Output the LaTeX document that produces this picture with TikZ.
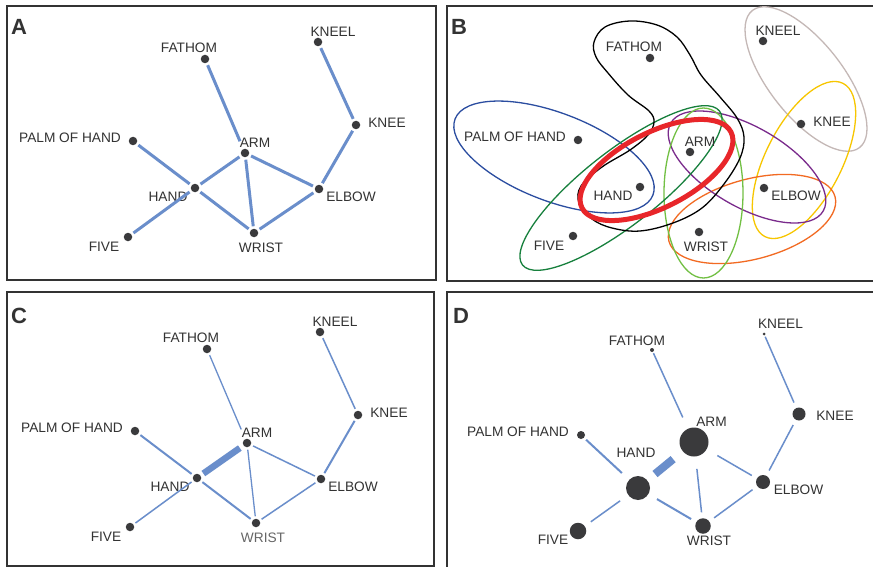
\documentclass[tikz,border=0pt]{standalone}
\usepackage{fontspec}
\setmainfont{Liberation Sans}
\definecolor{txt}{HTML}{333333}
\definecolor{dotc}{HTML}{3A3A3C}
\definecolor{edgec}{HTML}{6A8ECB}
\definecolor{framec}{HTML}{333333}
\definecolor{eblue}{HTML}{2B4DA0}
\definecolor{ered}{HTML}{E8262A}
\definecolor{edgreen}{HTML}{17803D}
\definecolor{elgreen}{HTML}{72C044}
\definecolor{epurple}{HTML}{7A2B8C}
\definecolor{eorange}{HTML}{F26A22}
\definecolor{eyellow}{HTML}{F7C600}
\definecolor{egray}{HTML}{C4B8B6}
\newcommand{\basenodes}[1]{%
  \node[dot] (#1-fathom) at (205,59) {};
  \node[dot] (#1-kneel) at (318,42) {};
  \node[dot] (#1-knee) at (356,125) {};
  \node[dot] (#1-palm) at (133,141) {};
  \node[dot] (#1-arm) at (245,153) {};
  \node[dot] (#1-hand) at (195,188) {};
  \node[dot] (#1-elbow) at (319,189) {};
  \node[dot] (#1-five) at (128,237) {};
  \node[dot] (#1-wrist) at (254,233) {};
  \node[lbl] (#1-fathom-t) at (189,48) {FATHOM};
  \node[lbl] (#1-kneel-t) at (333,32) {KNEEL};
  \node[lbl] (#1-knee-t) at (387,123) {KNEE};
  \node[lbl] (#1-palm-t) at (70,138) {PALM OF HAND};
  \node[lbl] (#1-arm-t) at (255,143) {ARM};
  \node[lbl] (#1-hand-t) at (168,197) {HAND};
  \node[lbl] (#1-elbow-t) at (351,197) {ELBOW};
  \node[lbl] (#1-five-t) at (104,247) {FIVE};
}
\begin{document}
\begin{tikzpicture}[x=1pt,y=-1pt,
  dot/.style={circle, fill=dotc, inner sep=0pt, minimum size=8.5pt, outer sep=2.5pt},
  ddot/.style={circle, fill=dotc, inner sep=0pt},
  lbl/.style={font=\fontsize{13.7}{14}\selectfont, text=txt, inner sep=0pt},
  plabel/.style={font=\fontsize{22}{22}\selectfont\bfseries, text=txt, inner sep=0pt},
  frame/.style={draw=framec, line width=1.5pt},
  edgeA/.style={draw=edgec, line width=3pt},
  edgeC/.style={draw=edgec, line width=1.5pt},
  ell/.style={line width=1.3pt}]
\useasboundingbox (0,0) rectangle (873,567);
\fill[white] (0,0) rectangle (873,567);
% frames
\draw[frame] (7,6) rectangle (436,280);
\draw[frame] (447,6) rectangle (875,281);
\draw[frame] (7,292) rectangle (434,566);
\draw[frame] (447,292) rectangle (875,570);
\node[plabel] (pa) at (19,27) {A};
\node[plabel] (pb) at (459,27) {B};
\node[plabel] (pc) at (19,316) {C};
\node[plabel] (pd) at (461,316) {D};

% ---------- Panel A
\basenodes{a}
\node[lbl] (a-wrist-t) at (261,248) {WRIST};
\draw[edgeA, shorten >=6pt] (a-fathom) -- (a-arm);
\draw[edgeA] (a-kneel) -- (a-knee);
\draw[edgeA] (a-knee) -- (a-elbow);
\draw[edgeA] (a-palm) -- (a-hand);
\draw[edgeA] (a-hand) -- (a-arm);
\draw[edgeA] (a-hand) -- (a-five);
\draw[edgeA] (a-hand) -- (a-wrist);
\draw[edgeA] (a-arm) -- (a-wrist);
\draw[edgeA] (a-arm) -- (a-elbow);
\draw[edgeA] (a-elbow) -- (a-wrist);

% ---------- Panel B
\draw[ell, egray, rotate around={-52:(806,79)}] (806,79) ellipse (87pt and 37pt);
\draw[ell, eyellow, rotate around={63:(804,160)}] (804,160) ellipse (86pt and 38pt);
\draw[ell, eorange, rotate around={15:(752,219)}] (752,219) ellipse (86pt and 40pt);
\draw[ell, epurple, rotate around={-30:(747,167)}] (747,167) ellipse (88pt and 40pt);
\draw[ell, elgreen] (703.5,193) ellipse (39.5pt and 85pt);
\draw[ell, eblue, rotate around={-21:(554,157)}] (554,157) ellipse (106pt and 44pt);
\draw[ell, edgreen, rotate around={38:(621,188)}] (621,188) ellipse (125pt and 37pt);
\draw[ell, black] plot[smooth cycle, tension=0.6] coordinates {
  (594,42) (605,27) (630,21) (657,25) (677,37) (690,55) (701,75) (720,97)
  (737,118) (744,137) (740,158) (724,184) (702,208) (673,223) (640,231)
  (612,228) (592,219) (579,203) (581,186) (602,167) (630,150) (648,135)
  (654,122) (649,111) (628,95) (608,73) (596,57)};
\draw[ered, line width=5pt, rotate around={27:(656.5,170)}] (656.5,170) ellipse (83.6pt and 37.5pt);
\begin{scope}[shift={(445,-1)}]
\basenodes{b}
\node[lbl] (b-wrist-t) at (261,248) {WRIST};
\end{scope}

% ---------- Panel C
\begin{scope}[shift={(2,290)}]
\basenodes{c}
\node[lbl, text=black!60] (c-wrist-t) at (261,248) {WRIST};
\draw[edgeC, line width=1.3pt, shorten >=8pt] (c-fathom) -- (c-arm);
\draw[edgeC] (c-kneel) -- (c-knee);
\draw[edgeC, line width=2pt] (c-knee) -- (c-elbow);
\draw[edgeC, line width=2pt] (c-palm) -- (c-hand);
\draw[edgeC, line width=6.5pt, shorten <=1pt, shorten >=2pt] (c-hand) -- (c-arm);
\draw[edgeC] (c-hand) -- (c-five);
\draw[edgeC, line width=2pt] (c-hand) -- (c-wrist);
\draw[edgeC, line width=1.3pt] (c-arm) -- (c-wrist);
\draw[edgeC] (c-arm) -- (c-elbow);
\draw[edgeC] (c-elbow) -- (c-wrist);
\end{scope}

% ---------- Panel D
\node[ddot, minimum size=4pt, outer sep=1.5pt] (d-fathom) at (652,350) {};
\node[ddot, minimum size=3pt, outer sep=1.5pt] (d-kneel) at (764,334) {};
\node[ddot, minimum size=13pt, outer sep=6pt] (d-knee) at (799,414) {};
\node[ddot, minimum size=8pt, outer sep=3pt] (d-palm) at (581,435) {};
\node[ddot, minimum size=29pt, outer sep=12.5pt] (d-arm) at (694,442) {};
\node[ddot, minimum size=24pt, outer sep=10pt] (d-hand) at (638,488) {};
\node[ddot, minimum size=14pt, outer sep=6pt] (d-elbow) at (763,482) {};
\node[ddot, minimum size=16.5pt, outer sep=7.5pt] (d-five) at (578,531) {};
\node[ddot, minimum size=15.5pt, outer sep=6pt] (d-wrist) at (703,526) {};
\node[lbl] (d-fathom-t) at (637,341) {FATHOM};
\node[lbl] (d-kneel-t) at (780.5,324) {KNEEL};
\node[lbl] (d-knee-t) at (835,416) {KNEE};
\node[lbl] (d-palm-t) at (518,432) {PALM OF HAND};
\node[lbl] (d-arm-t) at (711.5,422) {ARM};
\node[lbl] (d-hand-t) at (636,453) {HAND};
\node[lbl] (d-elbow-t) at (798.5,490) {ELBOW};
\node[lbl] (d-five-t) at (553,540) {FIVE};
\node[lbl] (d-wrist-t) at (709,541) {WRIST};
\draw[edgeC] (d-fathom) -- (d-arm);
\draw[edgeC] (d-kneel) -- (d-knee);
\draw[edgeC] (d-knee) -- (d-elbow);
\draw[edgeC, line width=2pt] (d-palm) -- (d-hand);
\draw[edgeC, line width=8pt] (d-hand) -- (d-arm);
\draw[edgeC] (d-hand) -- (d-five);
\draw[edgeC, line width=2pt] (d-hand) -- (d-wrist);
\draw[edgeC] (d-arm) -- (d-wrist);
\draw[edgeC] (d-arm) -- (d-elbow);
\draw[edgeC] (d-elbow) -- (d-wrist);
\end{tikzpicture}
\end{document}
